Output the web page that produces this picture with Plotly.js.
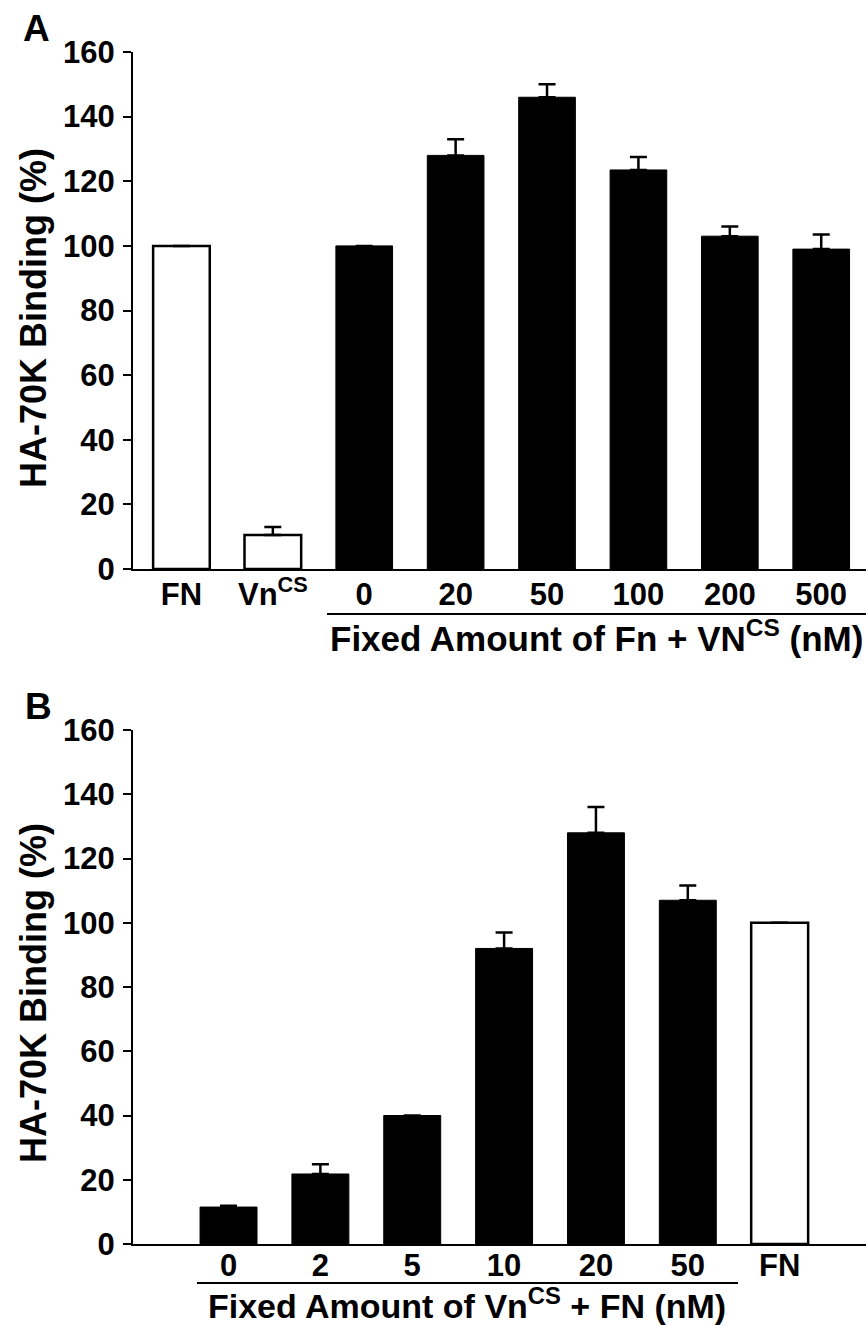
<!DOCTYPE html>
<html>
<head>
<meta charset="utf-8">
<script src="https://cdn.plot.ly/plotly-3.0.1.min.js"></script>
<style>html,body{margin:0;padding:0;background:#fff;}#chart{width:866px;height:1325px;}</style>
</head>
<body>
<div id="chart"></div>
<script>
// ---------- Data ----------
// Panel A
const aOpenCats = ['FN', 'Vn<sup>CS</sup>'];
const aOpenVals = [100, 10.5];
const aOpenErr  = [0, 2.5];
const aConcCats = ['0', '20', '50', '100', '200', '500'];
const aConcVals = [100, 128, 146, 123.5, 103, 99];
const aConcErr  = [0, 5, 4, 4, 3, 4.5];
// Panel B
const bConcCats = ['0', '2', '5', '10', '20', '50'];
const bConcVals = [11.5, 21.8, 40, 92, 128, 107];
const bConcErr  = [0.4, 3, 0, 5, 8, 4.6];
const bOpenCats = ['FN'];
const bOpenVals = [100];
const bOpenErr  = [0];
// Axis ticks
const yTicks = [0, 20, 40, 60, 80, 100, 120, 140, 160];

// ---------- Layout helpers ----------
const W = 866, H = 1325;
const px = x => x / W;
const py = y => 1 - y / H;
const FONT = 'Liberation Sans, Arial, Helvetica, sans-serif';
const zeros = a => a.map(() => 0);

function barTrace(cats, vals, err, open, xa, ya) {
  return {
    type: 'bar', x: cats, y: vals, xaxis: xa, yaxis: ya,
    width: 0.62,
    marker: { color: open ? '#ffffff' : '#000000', line: { color: '#000000', width: open ? 2.5 : 1 } },
    error_y: { type: 'data', symmetric: false, array: err, arrayminus: zeros(err),
               color: '#000000', thickness: 2.5, width: 8.5 },
    showlegend: false, hoverinfo: 'skip'
  };
}

const traces = [
  barTrace(aOpenCats, aOpenVals, aOpenErr, true, 'x', 'y'),
  barTrace(aConcCats, aConcVals, aConcErr, false, 'x', 'y'),
  barTrace(bConcCats, bConcVals, bConcErr, false, 'x2', 'y2'),
  barTrace(bOpenCats, bOpenVals, bOpenErr, true, 'x2', 'y2')
];

const yAxisBase = {
  range: [0, 160], tickvals: yTicks, ticks: 'outside', ticklen: 8, tickwidth: 2,
  showline: true, linewidth: 2, linecolor: '#000', tickcolor: '#000',
  showgrid: false, zeroline: false, fixedrange: true, automargin: false,
  tickfont: { family: FONT, size: 31, color: '#000', weight: 'bold' },
  ticklabelstandoff: 2
};
const xAxisBase = {
  type: 'category', showline: true, linewidth: 2, linecolor: '#000', ticks: '',
  showgrid: false, zeroline: false, fixedrange: true, automargin: false,
  tickfont: { family: FONT, size: 31, color: '#000', weight: 'bold' },
  domain: [px(133), 1]
};

const layout = {
  width: W, height: H,
  margin: { l: 0, r: 0, t: 0, b: 0 },
  paper_bgcolor: '#fff', plot_bgcolor: '#fff',
  barmode: 'overlay',
  font: { family: FONT, color: '#000' },
  xaxis: Object.assign({}, xAxisBase, {
    anchor: 'y', categoryorder: 'array', categoryarray: aOpenCats.concat(aConcCats),
    range: [-0.53, 7.49], ticklabelstandoff: -3
  }),
  yaxis: Object.assign({}, yAxisBase, { anchor: 'x', domain: [py(569), py(52)] }),
  xaxis2: Object.assign({}, xAxisBase, {
    anchor: 'y2', categoryorder: 'array', categoryarray: bConcCats.concat(bOpenCats),
    range: [-1.04, 6.94], ticklabelstandoff: -7
  }),
  yaxis2: Object.assign({}, yAxisBase, { anchor: 'x2', domain: [py(1244), py(730)] }),
  shapes: [
    { type: 'line', xref: 'paper', yref: 'paper', x0: px(327), x1: px(866), y0: py(614), y1: py(614), line: { color: '#000', width: 2 } },
    { type: 'line', xref: 'paper', yref: 'paper', x0: px(197), x1: px(738), y0: py(1283), y1: py(1283), line: { color: '#000', width: 2 } }
  ],
  annotations: [
    { text: 'A', x: px(36), y: py(28), xref: 'paper', yref: 'paper', showarrow: false, xanchor: 'center', yanchor: 'middle', font: { family: FONT, size: 37, weight: 'bold' } },
    { text: 'B', x: px(38), y: py(707), xref: 'paper', yref: 'paper', showarrow: false, xanchor: 'center', yanchor: 'middle', font: { family: FONT, size: 37, weight: 'bold' } },
    { text: 'HA-70K Binding (%)', textangle: -90, x: px(33), y: py(318), xref: 'paper', yref: 'paper', showarrow: false, xanchor: 'center', yanchor: 'middle', font: { family: FONT, size: 36, weight: 'bold' } },
    { text: 'HA-70K Binding (%)', textangle: -90, x: px(33), y: py(993), xref: 'paper', yref: 'paper', showarrow: false, xanchor: 'center', yanchor: 'middle', font: { family: FONT, size: 36, weight: 'bold' } },
    { text: 'Fixed Amount of Fn + VN<sup>CS</sup> (nM)', x: px(596), y: py(636), xref: 'paper', yref: 'paper', showarrow: false, xanchor: 'center', yanchor: 'middle', font: { family: FONT, size: 35, weight: 'bold' } },
    { text: 'Fixed Amount of Vn<sup>CS</sup> + FN (nM)', x: px(467), y: py(1303), xref: 'paper', yref: 'paper', showarrow: false, xanchor: 'center', yanchor: 'middle', font: { family: FONT, size: 34, weight: 'bold' } }
  ]
};

Plotly.newPlot('chart', traces, layout, { staticPlot: true, displayModeBar: false });
</script>
</body>
</html>
